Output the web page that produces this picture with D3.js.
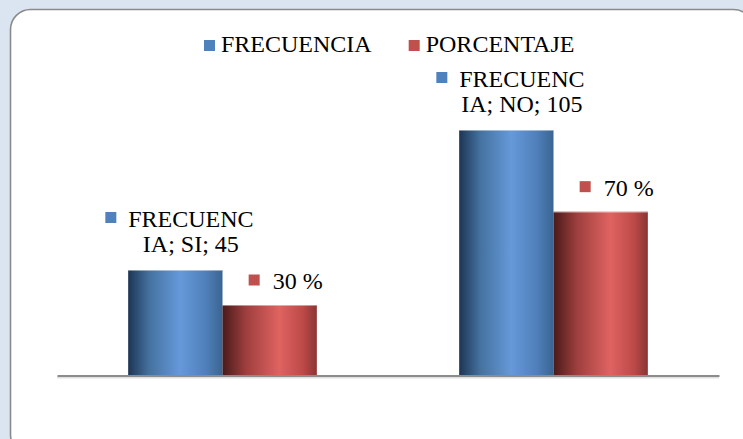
<!DOCTYPE html>
<html>
<head>
<meta charset="utf-8">
<script src="https://cdn.jsdelivr.net/npm/d3@7"></script>
<style>
  html, body { margin: 0; padding: 0; background: #dbe5f1; }
  svg { display: block; }
  svg text { font-family: "Times New Roman", Tinos, "Liberation Serif", "DejaVu Serif", "Noto Serif", serif; }
</style>
</head>
<body>
<svg id="chart" width="743" height="439"></svg>
<script>
// Answers to the question, two series plotted on one value axis
const categories = ["SI", "NO"];
const seriesNames = ["FRECUENCIA", "PORCENTAJE"];
const frecuencia = [45, 105];
const porcentaje = [30, 70];
const seriesColors = ["#4f81bd", "#c0504d"];

const FONT = 24;

const svg = d3.select("#chart");

// Gradients giving the bars their rounded, cylinder-like shading
const defs = svg.append("defs");
const gradStops = [
  [["0%", "#1d3554"], ["22%", "#44719f"], ["55%", "#6599d9"], ["82%", "#5080bb"], ["100%", "#3a6592"]],
  [["0%", "#4a1a1a"], ["25%", "#9e3f3e"], ["60%", "#df6361"], ["85%", "#bd4a48"], ["100%", "#8a3534"]]
];
gradStops.forEach((stops, i) => {
  const g = defs.append("linearGradient").attr("id", "grad" + i)
    .attr("x1", "0%").attr("x2", "100%").attr("y1", "0%").attr("y2", "0%");
  stops.forEach(s => g.append("stop").attr("offset", s[0]).attr("stop-color", s[1]));
});

// Chart area frame
svg.append("rect")
  .attr("x", 10.5).attr("y", 9.5)
  .attr("width", 743).attr("height", 445)
  .attr("rx", 20).attr("ry", 20)
  .attr("fill", "#ffffff")
  .attr("stroke", "#8a8a8a").attr("stroke-width", 1.6);

// Scales
const x0 = d3.scaleBand().domain(categories).range([57, 719]).paddingInner(0.43).paddingOuter(0.215);
const x1 = d3.scaleBand().domain(seriesNames).range([0, x0.bandwidth()]);
const y = d3.scaleLinear().domain([0, 120]).range([375, 95]);

const rows = categories.map((c, i) => ({ cat: c, values: [frecuencia[i], porcentaje[i]] }));

// Bars
const groups = svg.selectAll("g.cat").data(rows).join("g")
  .attr("class", "cat")
  .attr("transform", d => `translate(${x0(d.cat)},0)`);

groups.selectAll("rect.bar")
  .data(d => d.values.map((v, j) => ({ cat: d.cat, series: seriesNames[j], j, v })))
  .join("rect")
  .attr("class", "bar")
  .attr("x", d => x1(d.series))
  .attr("y", d => y(d.v))
  .attr("width", x1.bandwidth())
  .attr("height", d => y(0) - y(d.v))
  .attr("fill", d => `url(#grad${d.j})`);

// Light rim along the top edge of each bar
groups.selectAll("line.rim")
  .data(d => d.values.map((v, j) => ({ series: seriesNames[j], v })))
  .join("line")
  .attr("class", "rim")
  .attr("x1", d => x1(d.series)).attr("x2", d => x1(d.series) + x1.bandwidth())
  .attr("y1", d => y(d.v) + 0.5).attr("y2", d => y(d.v) + 0.5)
  .attr("stroke", "#ffffff").attr("stroke-opacity", 0.45).attr("stroke-width", 1);

// Soft shadow under the category axis line
svg.append("line")
  .attr("x1", x0.range()[0]).attr("x2", x0.range()[1])
  .attr("y1", y(0) + 2.5).attr("y2", y(0) + 2.5)
  .attr("stroke", "#000").attr("stroke-opacity", 0.12).attr("stroke-width", 2);

// Category axis line (no ticks or labels)
const xAxis = d3.axisBottom(x0).tickSize(0).tickSizeOuter(0).tickFormat("");
const axisG = svg.append("g").attr("transform", `translate(0,${y(0) + 0.5})`).call(xAxis);
axisG.select(".domain").attr("stroke", "#8c8c8c").attr("stroke-width", 2.2);

// Data labels
rows.forEach((r, i) => {
  // FRECUENCIA label, wrapped onto two lines
  const bx = x0(r.cat) + x1("FRECUENCIA") + x1.bandwidth() / 2;
  const full = `${seriesNames[0]}; ${r.cat}; ${r.values[0]}`;
  const lines = [full.slice(0, 8), full.slice(8)];
  const base2 = y(r.values[0]) - 18;
  const base1 = base2 - 25.5;
  svg.append("rect")
    .attr("x", bx - 70).attr("y", base1 - 14.5)
    .attr("width", 11).attr("height", 11)
    .attr("fill", seriesColors[0]);
  lines.forEach((t, k) => {
    svg.append("text")
      .attr("x", bx + 15.5).attr("y", k === 0 ? base1 : base2)
      .attr("text-anchor", "middle")
      .attr("font-size", FONT)
      .attr("fill", "#000")
      .text(t);
  });

  // PORCENTAJE label
  const rx = x0(r.cat) + x1("PORCENTAJE") + x1.bandwidth() / 2;
  const base = y(r.values[1]) - 16;
  svg.append("rect")
    .attr("x", rx - 21).attr("y", base - 14.5)
    .attr("width", 11).attr("height", 11)
    .attr("fill", seriesColors[1]);
  svg.append("text")
    .attr("x", rx + 3).attr("y", base)
    .attr("font-size", FONT)
    .attr("fill", "#000")
    .text(`${r.values[1]} %`);
});

// Legend
const legend = svg.append("g").attr("transform", "translate(204,0)");
let lx = 0;
seriesNames.forEach((name, i) => {
  legend.append("rect")
    .attr("x", lx).attr("y", 40)
    .attr("width", 11).attr("height", 11)
    .attr("fill", seriesColors[i]);
  const t = legend.append("text")
    .attr("x", lx + 17).attr("y", 52)
    .attr("font-size", FONT)
    .attr("fill", "#000")
    .text(name);
  lx += 17 + t.node().getComputedTextLength() + 37;
});
</script>
</body>
</html>
